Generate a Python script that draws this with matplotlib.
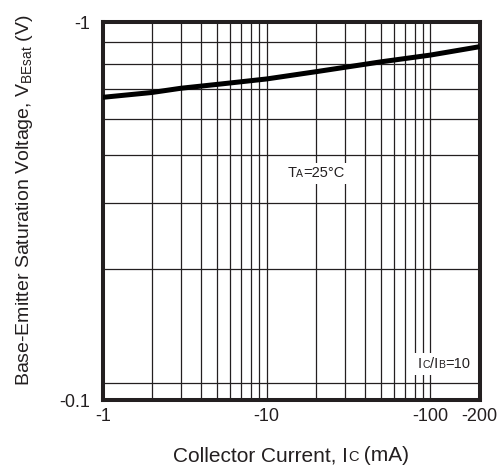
import numpy as np
import matplotlib
matplotlib.use("Agg")
import matplotlib.pyplot as plt
from matplotlib.offsetbox import TextArea, HPacker, AnnotationBbox

plt.rcParams['font.family'] = ['Liberation Sans', 'DejaVu Sans']

ink = '#231f20'

# collector current (mA) and VBE(sat) (V)
ic = [1, 2, 3, 5, 10, 20, 50, 100, 200]
vbe = [0.633, 0.652, 0.669, 0.685, 0.708, 0.740, 0.786, 0.819, 0.862]

x_ticks = [1, 10, 100, 200]
x_labels = ['-1', '-10', '-100', '-200']
y_ticks = [0.1, 1]
y_labels = ['-0.1', '-1']

# grid lines as drawn on the original sheet
x_grid = [2, 3, 4, 5, 6, 7, 8, 9, 10, 20, 30, 40, 50, 60, 70, 80, 90, 100]
y_grid = [1/9, 2/9, 3/9, 4/9, 5/9, 6/9, 7/9, 8/9]


def small_caps(parts, big, small):
    # parts: list of (text, is_small) -> baseline aligned boxes
    kids = []
    for txt, sm in parts:
        kids.append(TextArea(txt, textprops=dict(size=small if sm else big, color=ink)))
    return HPacker(children=kids, align="baseline", pad=0, sep=0)


fig = plt.figure(figsize=(5.01, 4.69), dpi=100)
ax = fig.add_axes([0.205, 0.1471, 0.7525, 0.8053])

ax.plot(ic, vbe, color='black', lw=3.6, solid_capstyle='butt', zorder=4)

ax.set_xscale('log')
ax.set_yscale('log')
ax.set_xlim(1, 200)
ax.set_ylim(0.1, 1)

ax.set_xticks(x_ticks)
ax.set_xticklabels(x_labels)
ax.set_yticks(y_ticks)
ax.set_yticklabels(y_labels)
ax.set_xticks(x_grid, minor=True)
ax.set_yticks(y_grid, minor=True)
ax.xaxis.set_minor_formatter(plt.NullFormatter())
ax.yaxis.set_minor_formatter(plt.NullFormatter())
ax.xaxis.remove_overlapping_locs = False

ax.tick_params(which='both', length=0, labelsize=13, labelcolor=ink)
ax.tick_params(axis='x', pad=6)
ax.tick_params(axis='y', pad=9)
ax.grid(True, which='minor', color=ink, lw=0.9)

for s in ax.spines.values():
    s.set_linewidth(2.9)
    s.set_color(ink)

# annotations
ta = small_caps([('T', False), ('A', True), ('=25°C', False)], 10.5, 7.5)
ax.add_artist(AnnotationBbox(ta, (20, 0.398), xycoords='data', frameon=True, pad=0.25,
                             bboxprops=dict(fc='white', ec='none'), zorder=5))
ib = small_caps([('I', False), ('C', True), ('/I', False), ('B', True), ('=10', False)], 10.5, 7.5)
ax.add_artist(AnnotationBbox(ib, (121, 0.1245), xycoords='data', frameon=True, pad=0.3,
                             bboxprops=dict(fc='white', ec='none'), zorder=5))

xl = small_caps([('Collector Current, I', False), ('C', True), (' (mA)', False)], 15, 10.5)
ax.add_artist(AnnotationBbox(xl, (0.5, -0.148), xycoords='axes fraction', frameon=False,
                             annotation_clip=False))

fig.text(25/501, 1 - 200/469, r'Base-Emitter Saturation Voltage, V$_\mathregular{BEsat}$ (V)',
         rotation=90, ha='center', va='center', fontsize=14, color=ink)

fig.savefig('out.png', dpi=100)
